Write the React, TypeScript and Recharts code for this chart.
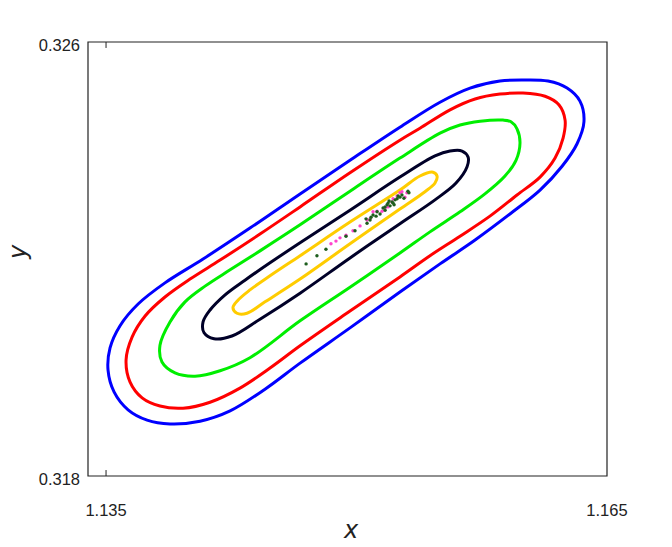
import React from "react";
import { ComposedChart, XAxis, YAxis, Line, Scatter, ReferenceArea, ReferenceLine } from "recharts";

// Contour levels (outer to inner), each a closed loop of [x, y]
const blueContour: [number, number][] = [
  [1.15997, 0.32530], [1.15859, 0.32528], [1.15680, 0.32515], [1.15500, 0.32489], [1.15260, 0.32443],
  [1.14961, 0.32382], [1.14662, 0.32320], [1.14362, 0.32257], [1.14081, 0.32200], [1.13853, 0.32156],
  [1.13692, 0.32117], [1.13584, 0.32077], [1.13524, 0.32036], [1.13512, 0.31995], [1.13548, 0.31955],
  [1.13632, 0.31922], [1.13746, 0.31903], [1.13883, 0.31896], [1.14063, 0.31901], [1.14243, 0.31920],
  [1.14452, 0.31960], [1.14662, 0.32008], [1.14961, 0.32073], [1.15260, 0.32139], [1.15500, 0.32191],
  [1.15710, 0.32235], [1.15919, 0.32283], [1.16099, 0.32327], [1.16231, 0.32371], [1.16320, 0.32412],
  [1.16362, 0.32453], [1.16338, 0.32491], [1.16261, 0.32515], [1.16147, 0.32528],
];
const redContour: [number, number][] = [
  [1.15997, 0.32506], [1.15859, 0.32504], [1.15710, 0.32495], [1.15560, 0.32475], [1.15380, 0.32441],
  [1.15260, 0.32419], [1.14961, 0.32359], [1.14662, 0.32296], [1.14422, 0.32246], [1.14183, 0.32198],
  [1.14003, 0.32163], [1.13853, 0.32130], [1.13734, 0.32095], [1.13656, 0.32056], [1.13620, 0.32014],
  [1.13644, 0.31973], [1.13716, 0.31944], [1.13823, 0.31929], [1.13961, 0.31925], [1.14123, 0.31936],
  [1.14302, 0.31962], [1.14482, 0.31999], [1.14662, 0.32040], [1.14961, 0.32104], [1.15260, 0.32167],
  [1.15440, 0.32206], [1.15620, 0.32242], [1.15799, 0.32279], [1.15961, 0.32318], [1.16099, 0.32351],
  [1.16189, 0.32386], [1.16237, 0.32423], [1.16249, 0.32456], [1.16213, 0.32484], [1.16129, 0.32500],
];
const greenContour: [number, number][] = [
  [1.15877, 0.32456], [1.15740, 0.32454], [1.15620, 0.32447], [1.15500, 0.32432], [1.15260, 0.32386],
  [1.14961, 0.32325], [1.14662, 0.32263], [1.14422, 0.32215], [1.14243, 0.32180], [1.14093, 0.32150],
  [1.13973, 0.32121], [1.13883, 0.32084], [1.13823, 0.32041], [1.13835, 0.32010], [1.13913, 0.31990],
  [1.14033, 0.31984], [1.14183, 0.31994], [1.14362, 0.32018], [1.14662, 0.32086], [1.14961, 0.32148],
  [1.15260, 0.32211], [1.15440, 0.32250], [1.15620, 0.32287], [1.15769, 0.32320], [1.15889, 0.32353],
  [1.15955, 0.32382], [1.15979, 0.32414], [1.15961, 0.32440], [1.15925, 0.32453],
];
const navyContour: [number, number][] = [
  [1.15632, 0.32399], [1.15560, 0.32399], [1.15470, 0.32390], [1.15260, 0.32351], [1.14961, 0.32290],
  [1.14662, 0.32230], [1.14482, 0.32193], [1.14332, 0.32161], [1.14213, 0.32134], [1.14123, 0.32106],
  [1.14081, 0.32084], [1.14087, 0.32064], [1.14147, 0.32053], [1.14254, 0.32058], [1.14422, 0.32089],
  [1.14662, 0.32137], [1.14961, 0.32202], [1.15260, 0.32265], [1.15470, 0.32309], [1.15596, 0.32340],
  [1.15662, 0.32370], [1.15668, 0.32388],
];
const goldContour: [number, number][] = [
  [1.15458, 0.32360], [1.15380, 0.32353], [1.15260, 0.32327], [1.14961, 0.32268], [1.14662, 0.32206],
  [1.14482, 0.32169], [1.14362, 0.32143], [1.14290, 0.32124], [1.14260, 0.32110], [1.14284, 0.32100],
  [1.14344, 0.32100], [1.14452, 0.32121], [1.14662, 0.32163], [1.14961, 0.32228], [1.15260, 0.32292],
  [1.15410, 0.32324], [1.15470, 0.32340], [1.15482, 0.32353],
];

// Sample points
const greenDots: [number, number][] = [
  [1.14698, 0.32191], [1.14763, 0.32206], [1.14817, 0.32218], [1.14937, 0.32242], [1.14991, 0.32252],
  [1.15057, 0.32274], [1.15063, 0.32266], [1.15081, 0.32272], [1.15087, 0.32277], [1.15099, 0.32281],
  [1.15117, 0.32279], [1.15123, 0.32287], [1.15141, 0.32283], [1.15159, 0.32294], [1.15171, 0.32296],
  [1.15171, 0.32290], [1.15183, 0.32300], [1.15189, 0.32303], [1.15195, 0.32307], [1.15201, 0.32298],
  [1.15213, 0.32305], [1.15219, 0.32303], [1.15225, 0.32300], [1.15231, 0.32309], [1.15243, 0.32311],
  [1.15249, 0.32316], [1.15260, 0.32314], [1.15272, 0.32318], [1.15284, 0.32312], [1.15308, 0.32325],
  [1.15314, 0.32322],
];
const magentaDots: [number, number][] = [
  [1.14847, 0.32228], [1.14877, 0.32233], [1.14901, 0.32239], [1.14937, 0.32244], [1.14979, 0.32252],
  [1.15021, 0.32261], [1.15063, 0.32272], [1.15081, 0.32274], [1.15099, 0.32287], [1.15123, 0.32288],
  [1.15153, 0.32288], [1.15171, 0.32294], [1.15189, 0.32296], [1.15213, 0.32305], [1.15219, 0.32311],
  [1.15243, 0.32316], [1.15260, 0.32322], [1.15272, 0.32324], [1.15290, 0.32314], [1.15302, 0.32322],
];

const xDomain: [number, number] = [1.13392, 1.165];
const yDomain: [number, number] = [0.318, 0.326];
const xTicks = [1.135, 1.165];
const yTicks = [0.318, 0.326];
const xTickLabels = ["1.135", "1.165"];
const yTickLabels = ["0.318", "0.326"];

const toObjs = (arr: [number, number][]) => arr.map(([x, y]) => ({ x, y }));

// Closed centripetal Catmull-Rom curve factory
function catmullRomClosed(context: any) {
  let pts: [number, number][] = [];
  return {
    areaStart() {},
    areaEnd() {},
    lineStart() {
      pts = [];
    },
    point(x: number, y: number) {
      pts.push([+x, +y]);
    },
    lineEnd() {
      const n = pts.length;
      if (n < 3) return;
      const eps = 1e-12;
      context.moveTo(pts[0][0], pts[0][1]);
      for (let i = 0; i < n; i++) {
        const p0 = pts[(i - 1 + n) % n];
        const p1 = pts[i];
        const p2 = pts[(i + 1) % n];
        const p3 = pts[(i + 2) % n];
        const d01 = Math.hypot(p1[0] - p0[0], p1[1] - p0[1]);
        const d12 = Math.hypot(p2[0] - p1[0], p2[1] - p1[1]);
        const d23 = Math.hypot(p3[0] - p2[0], p3[1] - p2[1]);
        const l01a = Math.sqrt(d01), l12a = Math.sqrt(d12), l23a = Math.sqrt(d23);
        let x1 = p1[0], y1 = p1[1], x2 = p2[0], y2 = p2[1];
        if (l01a > eps) {
          const a = 2 * d01 + 3 * l01a * l12a + d12;
          const nn = 3 * l01a * (l01a + l12a);
          x1 = (x1 * a - p0[0] * d12 + p2[0] * d01) / nn;
          y1 = (y1 * a - p0[1] * d12 + p2[1] * d01) / nn;
        }
        if (l23a > eps) {
          const b = 2 * d23 + 3 * l23a * l12a + d12;
          const m = 3 * l23a * (l23a + l12a);
          x2 = (x2 * b + p1[0] * d23 - p3[0] * d12) / m;
          y2 = (y2 * b + p1[1] * d23 - p3[1] * d12) / m;
        }
        context.bezierCurveTo(x1, y1, x2, y2, p2[0], p2[1]);
      }
      context.closePath();
    },
  };
}

const FONT = "'Liberation Sans', Arial, sans-serif";

const XTick = (props: any) => {
  const { x, payload } = props;
  const idx = xTicks.indexOf(payload.value);
  return (
    <text x={x} y={508} textAnchor="middle" fontFamily={FONT} fontSize={16.5} fill="#222">
      {xTickLabels[idx] ?? String(payload.value)}
    </text>
  );
};

const YTick = (props: any) => {
  const { y, payload } = props;
  const idx = yTicks.indexOf(payload.value);
  return (
    <text x={72} y={y + 8.5} textAnchor="end" fontFamily={FONT} fontSize={16.5} fill="#222">
      {yTickLabels[idx] ?? String(payload.value)}
    </text>
  );
};

const Dot = (color: string) => (p: any) =>
  <circle cx={p.cx} cy={p.cy} r={1.7} fill={color} />;

const contours = [
  { data: blueContour, color: "#0000ff" },
  { data: redContour, color: "#ff0000" },
  { data: greenContour, color: "#00ee00" },
  { data: navyContour, color: "#000028" },
  { data: goldContour, color: "#ffcc00" },
];

export default function App() {
  return (
    <div style={{ width: 656, height: 531, background: "#fff" }}>
      <style>{"svg.recharts-surface{overflow:visible}"}</style>
      <ComposedChart width={656} height={539} margin={{ top: 34, right: 57, bottom: 41, left: 20 }}>
        <XAxis
          type="number"
          dataKey="x"
          domain={xDomain}
          ticks={xTicks}
          allowDataOverflow
          axisLine={false}
          tickLine={false}
          tick={<XTick />}
          height={30}
        />
        <YAxis
          type="number"
          dataKey="y"
          domain={yDomain}
          ticks={yTicks}
          allowDataOverflow
          axisLine={false}
          tickLine={false}
          tick={<YTick />}
          width={60}
        />
        <ReferenceArea
          x1={xDomain[0]}
          x2={xDomain[1]}
          y1={yDomain[0]}
          y2={yDomain[1]}
          fill="none"
          fillOpacity={0}
          stroke="#222"
          strokeWidth={1.2}
          ifOverflow="visible"
        />
        <ReferenceLine segment={[{ x: 1.135, y: 0.318 }, { x: 1.135, y: 0.31811 }]} stroke="#222" strokeWidth={1} />
        <ReferenceLine segment={[{ x: 1.135, y: 0.326 }, { x: 1.135, y: 0.32589 }]} stroke="#222" strokeWidth={1} />
        {contours.map((c, i) => (
          <Line
            key={i}
            data={toObjs(c.data)}
            dataKey="y"
            type={catmullRomClosed as any}
            stroke={c.color}
            strokeWidth={3}
            dot={false}
            activeDot={false}
            isAnimationActive={false}
          />
        ))}
        <Scatter data={toObjs(magentaDots)} fill="#ff44cc" shape={Dot("#ff44cc")} isAnimationActive={false} />
        <Scatter data={toObjs(greenDots)} fill="#1e5e1e" shape={Dot("#1e5e1e")} isAnimationActive={false} />
        <text x={343} y={530} textAnchor="middle" fontFamily="'DejaVu Sans', sans-serif" fontStyle="italic" fontSize={24} fill="#222">
          x
        </text>
        <text
          x={18}
          y={244}
          textAnchor="middle"
          fontFamily="'DejaVu Sans', sans-serif"
          fontStyle="italic"
          fontSize={24}
          fill="#222"
          transform="rotate(-90 18 244)"
        >
          y
        </text>
      </ComposedChart>
    </div>
  );
}
